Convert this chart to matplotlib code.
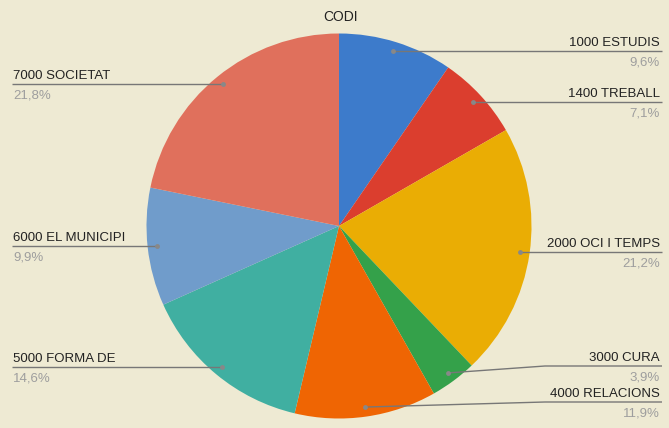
import numpy as np
import matplotlib
matplotlib.use('Agg')
from matplotlib import pyplot as plt

labels = ['1000 ESTUDIS', '1400 TREBALL', '2000 OCI I TEMPS', '3000 CURA',
          '4000 RELACIONS', '5000 FORMA DE', '6000 EL MUNICIPI', '7000 SOCIETAT']
shares = [9.6, 7.1, 21.2, 3.9, 11.9, 14.6, 9.9, 21.8]
colors = ['#3D7BCB', '#DB3E2E', '#EAAD04', '#34A14A',
          '#EF6503', '#40AFA1', '#709CCB', '#E0705C']
# label line height (pixels from top) and which side the label sits on
label_y = [52, 103, 253, 366, 402, 368, 247, 84]
side = ['r', 'r', 'r', 'r', 'r', 'l', 'l', 'l']

W, H = 669, 428
bg = '#EEEAD3'
plt.rcParams['font.family'] = ['Liberation Sans', 'DejaVu Sans']

fig = plt.figure(figsize=(W / 100, H / 100), dpi=100, facecolor=bg)
ax = fig.add_axes([0, 0, 1, 1])
ax.set_facecolor(bg)

cx, cy, R = 339, H - 226, 192.5
wedges, _ = ax.pie(shares, colors=colors, startangle=90, counterclock=False,
                   center=(cx, cy), radius=R, wedgeprops=dict(linewidth=0))
ax.set_xlim(0, W)
ax.set_ylim(0, H)
ax.set_aspect('auto')
ax.axis('off')

ax.text(cx + 2, H - 17, 'CODI', ha='center', va='center', fontsize=10, color='#222222')

line_c = '#777777'
for w, name, pct, ly, s in zip(wedges, labels, shares, label_y, side):
    mid = np.deg2rad((w.theta1 + w.theta2) / 2)
    dx = cx + 0.95 * R * np.cos(mid)
    dy = cy + 0.95 * R * np.sin(mid)
    ly = H - ly
    if s == 'r':
        if abs(dy - ly) > 3:
            xs, ys = [dx, 545, 662], [dy, ly, ly]
        else:
            xs, ys = [dx, 662], [dy, dy]
        tx, ha = 660, 'right'
    else:
        xs, ys = [dx, 12], [dy, dy]
        tx, ha = 13, 'left'
    ax.plot(xs, ys, color=line_c, lw=1, solid_capstyle='butt')
    ax.plot(dx, dy, 'o', color='#888888', ms=3.5, mec='none')
    ax.text(tx, ys[-1] + 5, name, ha=ha, va='baseline', fontsize=9.5, color='#222222')
    ax.text(tx, ys[-1] - 14.5, f'{pct:.1f}%'.replace('.', ','), ha=ha, va='baseline',
            fontsize=9.5, color='#9E9E9E')

fig.savefig('out.png', dpi=100, facecolor=bg)
